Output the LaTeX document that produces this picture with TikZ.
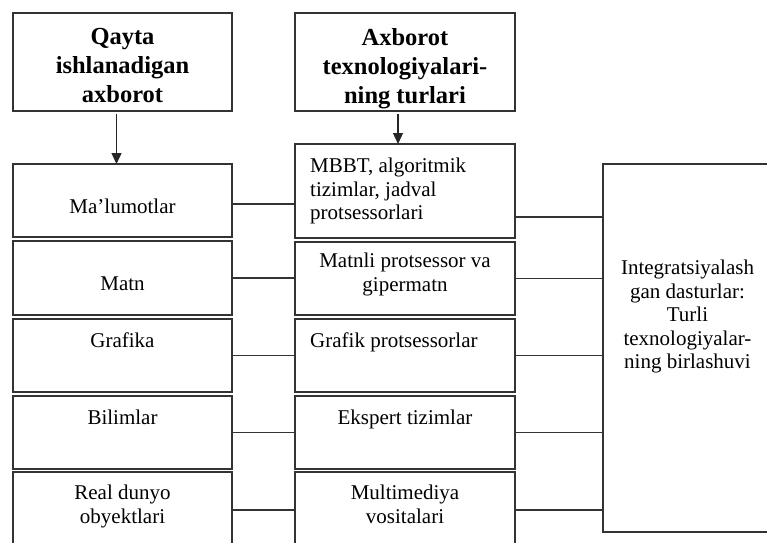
\documentclass[tikz,border=0pt]{standalone}
\usepackage{fontspec}
\setmainfont{Liberation Serif}
\usetikzlibrary{positioning,arrows.meta}

\begin{document}
\begin{tikzpicture}[
    x=1pt, y=-1pt,
    >={Triangle[length=11pt, width=10pt]},
    box/.style={
      rectangle, draw=black!80, line width=1.3pt,
      inner sep=0pt, outer sep=0pt, anchor=north west
    },
    lbox/.style={box, minimum width=219pt},
    mbox/.style={box, minimum width=220pt},
    txt/.style={font=\fontsize{21}{23.5}\selectfont, inner sep=0pt, align=center},
    headtxt/.style={font=\fontsize{24.5}{29}\selectfont\bfseries, inner sep=0pt, align=center},
    link/.style={draw=black!80, line width=1.3pt},
    arr/.style={draw=black!85, line width=1.3pt, ->},
  ]
  \useasboundingbox (0,0) rectangle (767,542);

  % Headers
  \node[lbox, minimum height=98pt] (H1) at (13,13) {};
  \node[mbox, minimum height=98pt] (H2) at (295,13) {};
  \node[headtxt, below=15pt of H1.north] (H1t) {Qayta\\ishlanadigan\\axborot};
  \node[headtxt, below=15pt of H2.north] (H2t) {Axborot\\texnologiyalari-\\ning turlari};

  % Left column
  \node[lbox, minimum height=73pt] (L1) at (13,164) {};
  \node[lbox, minimum height=74pt, below=4pt of L1] (L2) {};
  \node[lbox, minimum height=73pt, below=4pt of L2] (L3) {};
  \node[lbox, minimum height=73pt, below=4pt of L3] (L4) {};
  \node[lbox, minimum height=76pt, below=3pt of L4] (L5) {};

  \node[txt, below=35pt of L1.north] (L1t) {Ma’lumotlar};
  \node[txt, below=36pt of L2.north] (L2t) {Matn};
  \node[txt, below=14pt of L3.north] (L3t) {Grafika};
  \node[txt, below=14pt of L4.north] (L4t) {Bilimlar};
  \node[txt, below=13pt of L5.north] (L5t) {Real dunyo\\obyektlari};

  % Middle column
  \node[mbox, minimum height=94pt] (M1) at (295,144) {};
  \node[mbox, minimum height=73pt, below=4pt of M1] (M2) {};
  \node[mbox, minimum height=73pt, below=4pt of M2] (M3) {};
  \node[mbox, minimum height=73pt, below=4pt of M3] (M4) {};
  \node[mbox, minimum height=76pt, below=3pt of M4] (M5) {};

  \node[txt, align=left, below right=14pt and 15pt of M1.north west] (M1t)
    {MBBT, algoritmik\\tizimlar, jadval\\protsessorlari};
  \node[txt, below=11pt of M2.north] (M2t) {Matnli protsessor va\\gipermatn};
  \node[txt, below right=14pt and 15pt of M3.north west] (M3t) {Grafik protsessorlar};
  \node[txt, below=14pt of M4.north] (M4t) {Ekspert tizimlar};
  \node[txt, below=13pt of M5.north] (M5t) {Multimediya\\vositalari};

  % Right box
  \node[box, minimum width=169pt, minimum height=368pt] (R) at (603,164) {};
  \node[txt, below=96pt of R.north] (Rt)
    {Integratsiyalash\\gan dasturlar:\\Turli\\texnologiyalar-\\ning birlashuvi};

  % Arrows
  \draw[arr] ([xshift=-6pt, yshift=-3pt]H1.south) -- ([xshift=-6pt]H1.south |- L1.north);
  \draw[arr] ([xshift=-7pt, yshift=-3pt]H2.south) -- ([xshift=-7pt]H2.south |- M1.north);

  % Connectors
  \coordinate (l1out) at ([yshift=-3.5pt]L1.east);
  \coordinate (m1out) at ([yshift=21pt]M1.south east);
  \draw[link] (l1out) -- (l1out -| M1.west);
  \draw[link] (m1out) -- (m1out -| R.west);
  \foreach \i in {2,...,5} {
    \draw[link] (L\i.east) -- (L\i.east -| M\i.west);
    \draw[link] (M\i.east) -- (M\i.east -| R.west);
  }

\end{tikzpicture}
\end{document}
